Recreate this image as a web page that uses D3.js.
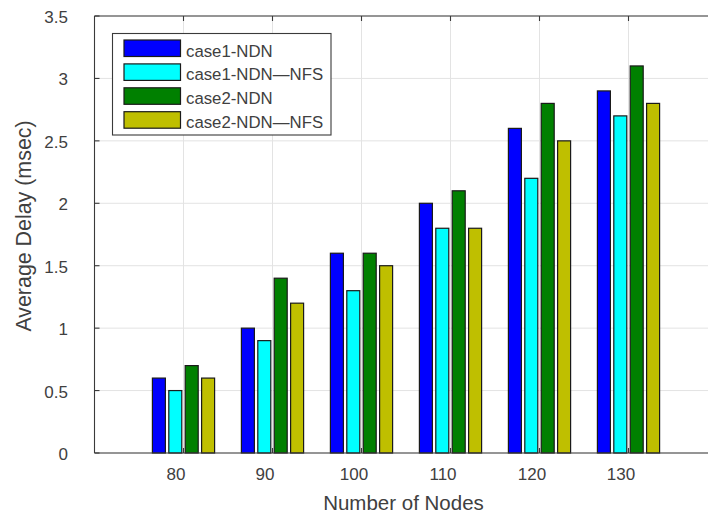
<!DOCTYPE html>
<html>
<head>
<meta charset="utf-8">
<script src="https://cdn.jsdelivr.net/npm/d3@7"></script>
<style>
  body { margin: 0; background: #fff; }
  text { font-family: "Liberation Sans", Arial, sans-serif; fill: #404040; }
</style>
</head>
<body>
<svg width="708" height="516"></svg>
<script>
// data
var nodes = [80, 90, 100, 110, 120, 130];
var seriesNames = ["case1-NDN", "case1-NDN\u2014NFS", "case2-NDN", "case2-NDN\u2014NFS"];
var seriesColors = ["#0000ff", "#00ffff", "#008000", "#bfbf00"];
var case1NDN = [0.6, 1.0, 1.6, 2.0, 2.6, 2.9];
var case1NDNNFS = [0.5, 0.9, 1.3, 1.8, 2.2, 2.7];
var case2NDN = [0.7, 1.4, 1.6, 2.1, 2.8, 3.1];
var case2NDNNFS = [0.6, 1.2, 1.5, 1.8, 2.5, 2.8];
var series = [case1NDN, case1NDNNFS, case2NDN, case2NDNNFS];
var yTicks = [0, 0.5, 1, 1.5, 2, 2.5, 3, 3.5];

var svg = d3.select("svg"),
    pLeft = 94.5, pTop = 16, pBottom = 453, pRight = 717.5;

var x = d3.scaleLinear().domain([70, 140]).range([pLeft, pRight]);
var y = d3.scaleLinear().domain([0, 3.5]).range([pBottom, pTop]);

// offsets inside a group, in data units
var step = 1.843, barW = 1.46;

// grid
svg.append("g").selectAll("line").data(yTicks).enter().append("line")
    .attr("x1", pLeft).attr("x2", pRight)
    .attr("y1", d => y(d)).attr("y2", d => y(d))
    .attr("stroke", "#e3e3e3").attr("stroke-width", 1);
svg.append("g").selectAll("line").data(nodes).enter().append("line")
    .attr("x1", d => x(d)).attr("x2", d => x(d))
    .attr("y1", pTop).attr("y2", pBottom)
    .attr("stroke", "#e3e3e3").attr("stroke-width", 1);

// bars
series.forEach(function (vals, i) {
    svg.append("g").selectAll("rect").data(vals).enter().append("rect")
        .attr("x", (d, j) => x(nodes[j] + (i - 1.5) * step - barW / 2))
        .attr("width", x(70 + barW) - x(70))
        .attr("y", d => y(d))
        .attr("height", d => y(0) - y(d))
        .attr("fill", seriesColors[i])
        .attr("stroke", "#1a1a1a")
        .attr("stroke-width", 1.2);
});

// axes box and ticks
var ax = svg.append("g").attr("stroke", "#3a3a3a").attr("stroke-width", 1.1);
ax.append("line").attr("x1", pLeft).attr("x2", pRight).attr("y1", pBottom).attr("y2", pBottom);
ax.append("line").attr("x1", pLeft).attr("x2", pRight).attr("y1", pTop).attr("y2", pTop);
ax.append("line").attr("x1", pLeft).attr("x2", pLeft).attr("y1", pTop).attr("y2", pBottom);
ax.selectAll(".yt").data(yTicks).enter().append("line")
    .attr("x1", pLeft).attr("x2", pLeft + 5)
    .attr("y1", d => y(d)).attr("y2", d => y(d));
ax.selectAll(".xb").data(nodes).enter().append("line")
    .attr("x1", d => x(d)).attr("x2", d => x(d))
    .attr("y1", pBottom).attr("y2", pBottom - 5);
ax.selectAll(".xt").data(nodes).enter().append("line")
    .attr("x1", d => x(d)).attr("x2", d => x(d))
    .attr("y1", pTop).attr("y2", pTop + 5);

// tick labels
svg.append("g").selectAll("text").data(yTicks).enter().append("text")
    .attr("x", 68).attr("y", d => y(d) + 7)
    .attr("text-anchor", "end")
    .style("font-size", "17px")
    .text(d => d);
svg.append("g").selectAll("text").data(nodes).enter().append("text")
    .attr("x", d => x(d) - 7.5).attr("y", 480)
    .attr("text-anchor", "middle")
    .style("font-size", "17px")
    .text(d => d);

// axis titles
svg.append("text")
    .attr("x", 403.5).attr("y", 510)
    .attr("text-anchor", "middle")
    .style("font-size", "20.5px")
    .text("Number of Nodes");
svg.append("text")
    .attr("transform", "translate(31,226) rotate(-90)")
    .attr("text-anchor", "middle")
    .style("font-size", "21.4px")
    .text("Average Delay (msec)");

// legend
var lg = svg.append("g");
lg.append("rect")
    .attr("x", 112.5).attr("y", 33.5).attr("width", 218.5).attr("height", 101.5)
    .attr("fill", "#fff").attr("stroke", "#3a3a3a").attr("stroke-width", 1.1);
seriesNames.forEach(function (name, i) {
    lg.append("rect")
        .attr("x", 124).attr("y", 40 + i * 23.9)
        .attr("width", 56.5).attr("height", 16.5)
        .attr("fill", seriesColors[i])
        .attr("stroke", "#1a1a1a").attr("stroke-width", 1.2);
    lg.append("text")
        .attr("x", 186).attr("y", 56.5 + i * 23.9)
        .style("font-size", "16.8px")
        .text(name);
});
</script>
</body>
</html>
